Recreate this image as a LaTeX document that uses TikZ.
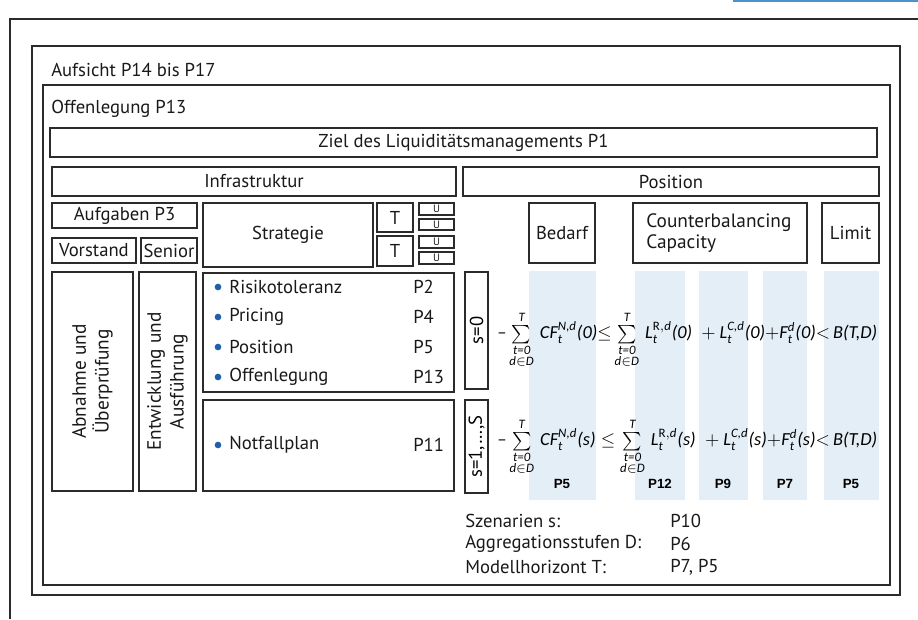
\documentclass[tikz,border=0pt]{standalone}
\usepackage{fontspec}
\usepackage{amsmath}
\usepackage{graphicx}
\setmainfont{PT Sans}
\newfontfamily\fml{Carlito}
\newfontfamily\arialb{Liberation Sans}
\definecolor{colShade}{HTML}{E4EEF7}
\definecolor{colBullet}{HTML}{1F5FA8}
\definecolor{colTop}{HTML}{4A93CF}
\definecolor{colLine}{HTML}{2B2B2B}
\newcommand\fmi[1]{\text{\fml\itshape #1}}
\newcommand\lims{\limits_{\substack{\fmi{t=0}\\ \fmi{d}\in\fmi{D}}}^{\fmi{T}}\,}
\newcommand\bx[7][]{\node[box,#1,minimum width={(#5-#3)*0.75pt},minimum height={(#6-#4)*0.75pt}] (#2) at ({(#3+#5)/2},{(#4+#6)/2}) {#7};}
\begin{document}
\begin{tikzpicture}[x=0.75pt,y=-0.75pt,
  box/.style={draw=colLine,line width=1pt,inner sep=0pt,outer sep=0pt,font=\fontsize{14}{16}\selectfont,text=black!90},
  lbl/.style={anchor=west,inner sep=0pt,font=\fontsize{14}{16}\selectfont,text=black!90},
  ulbl/.style={font=\fontsize{8}{8}\selectfont},
  rlbl/.style={rotate=90,align=center,font=\fontsize{14.5}{17}\selectfont,text=black!90},
  shade/.style={fill=colShade,draw=none},
  plbl/.style={inner sep=0pt,font=\arialb\bfseries\fontsize{10}{11}\selectfont},
  dot/.style={circle,fill=colBullet,inner sep=0pt,minimum size=5pt}]
\useasboundingbox (0,0) rectangle (918,619);
% top accent line and outer frame
\coordinate (tl) at (733,1);
\coordinate (tr) at (918,1);
\draw[colTop,line width=1.5pt] (tl) -- (tr);
\coordinate (fr) at (918,19);
\coordinate (fb) at (10,619);
\draw[colLine,line width=1pt] (fr) -| (fb);
% nested frames
\bx{aufsicht}{32}{46}{900}{595}{}
\node[lbl] (aufsichtL) at (51,70) {Aufsicht P14 bis P17};
\bx{offen}{43}{85}{890}{585}{}
\node[lbl] (offenL) at (51,109) {Offenlegung P13};
\bx{ziel}{50}{128}{877}{157}{Ziel des Liquiditätsmanagements P1}
\bx{infra}{52}{167}{456}{196}{Infrastruktur}
\bx{pos}{463}{167}{879}{196}{Position}
% infrastructure
\bx{aufg}{52}{203}{197}{228}{Aufgaben P3}
\bx{vorst}{52}{238}{136}{263}{Vorstand}
\bx{senior}{141}{238}{197}{263}{Senior}
\bx{strat}{203}{203}{373}{267}{Strategie}
\bx{t1}{377}{203}{413}{232}{T}
\bx{t2}{377}{236}{413}{266}{T}
\bx[ulbl]{u1}{419}{203}{454}{215}{U}
\bx[ulbl]{u2}{419}{219}{454}{230}{U}
\bx[ulbl]{u3}{419}{236}{454}{248}{U}
\bx[ulbl]{u4}{419}{252}{454}{264}{U}
\bx{abn}{52}{272}{133}{491}{}
\node[rlbl] (abnT) at (abn.center) {Abnahme und\\Überprüfung};
\bx{entw}{139}{272}{196}{491}{}
\node[rlbl] (entwT) at (entw.center) {Entwicklung und\\Ausführung};
\bx{list}{203}{273}{454}{392}{}
\bx{notf}{203}{400}{454}{491}{}
\foreach \nm/\yy/\tx/\pp in {a/287/Risikotoleranz/P2, b/317/Pricing/P4, c/347/Position/P5, d/377/Offenlegung/P13, e/445/Notfallplan/P11}{
  \node[dot] (bul\nm) at (218,\yy) {};
  \node[lbl] (item\nm) at (229,\yy) {\tx};
  \node[lbl] (pref\nm) at (413,\yy) {\pp};
}
% position
\bx{s0}{465}{272}{488}{389}{}
\node[rotate=90,font=\fontsize{14}{16}\selectfont] (s0T) at (s0.center) {s=0};
\bx{s1}{465}{400}{488}{493}{}
\node[rotate=90,font=\fontsize{14}{16}\selectfont] (s1T) at (s1.center) {s=1,…,S};
\bx{bedarf}{529}{203}{595}{263}{Bedarf}
\bx{cbc}{633}{203}{807}{263}{}
\node[lbl,align=left,font=\fontsize{14.5}{16}\selectfont] (cbcT) at (646,233) {Counterbalancing\\Capacity};
\bx{limit}{822}{203}{879}{263}{Limit}
% shaded columns
\foreach \nm/\xa/\xb in {c1/529/596, c2/635/685, c3/699/748, c4/763/807, c5/824/879}{
  \path[shade] (\xa,271) rectangle (\xb,500);
}
\foreach \nm/\xx/\tx in {p1/562/P5, p2/660/P12, p3/723/P9, p4/785/P7, p5/851/P5}{
  \node[plbl] (\nm) at (\xx,484) {\tx};
}
% formulas
\node[anchor=west,inner sep=0pt] (f0) at (497,340) {\resizebox{285pt}{!}{$\fmi{–}\sum\lims\fmi{CF}^{\fmi{N,d}}_{\fmi{t}}\fmi{(0)}{\le}\sum\lims\fmi{L}^{\text{\fml R},\fmi{d}}_{\fmi{t}}\fmi{(0)}\;+\fmi{L}^{\fmi{C,d}}_{\fmi{t}}\fmi{(0)}{+}\fmi{F}^{\fmi{d}}_{\fmi{t}}\fmi{(0)}{<}\,\fmi{B(T,D)}$}};
\node[anchor=west,inner sep=0pt] (f1) at (497,447) {\resizebox{285pt}{!}{$\fmi{–}\sum\lims\fmi{CF}^{\fmi{N,d}}_{\fmi{t}}\fmi{(s)}\le\sum\lims\fmi{L}^{\text{\fml R},\fmi{d}}_{\fmi{t}}\fmi{(s)}\;+\fmi{L}^{\fmi{C,d}}_{\fmi{t}}\fmi{(s)}{+}\fmi{F}^{\fmi{d}}_{\fmi{t}}\fmi{(s)}{<}\,\fmi{B(T,D)}$}};
% legend
\foreach \nm/\yy/\ta/\tb in {sz/521/Szenarien s:/P10, ag/544/Aggregationsstufen D:/P6, mh/567/Modellhorizont T:/{P7, P5}}{
  \node[lbl] (leg\nm) at (465,\yy) {\ta};
  \node[lbl] (legp\nm) at (670,\yy) {\tb};
}
\end{tikzpicture}
\end{document}
